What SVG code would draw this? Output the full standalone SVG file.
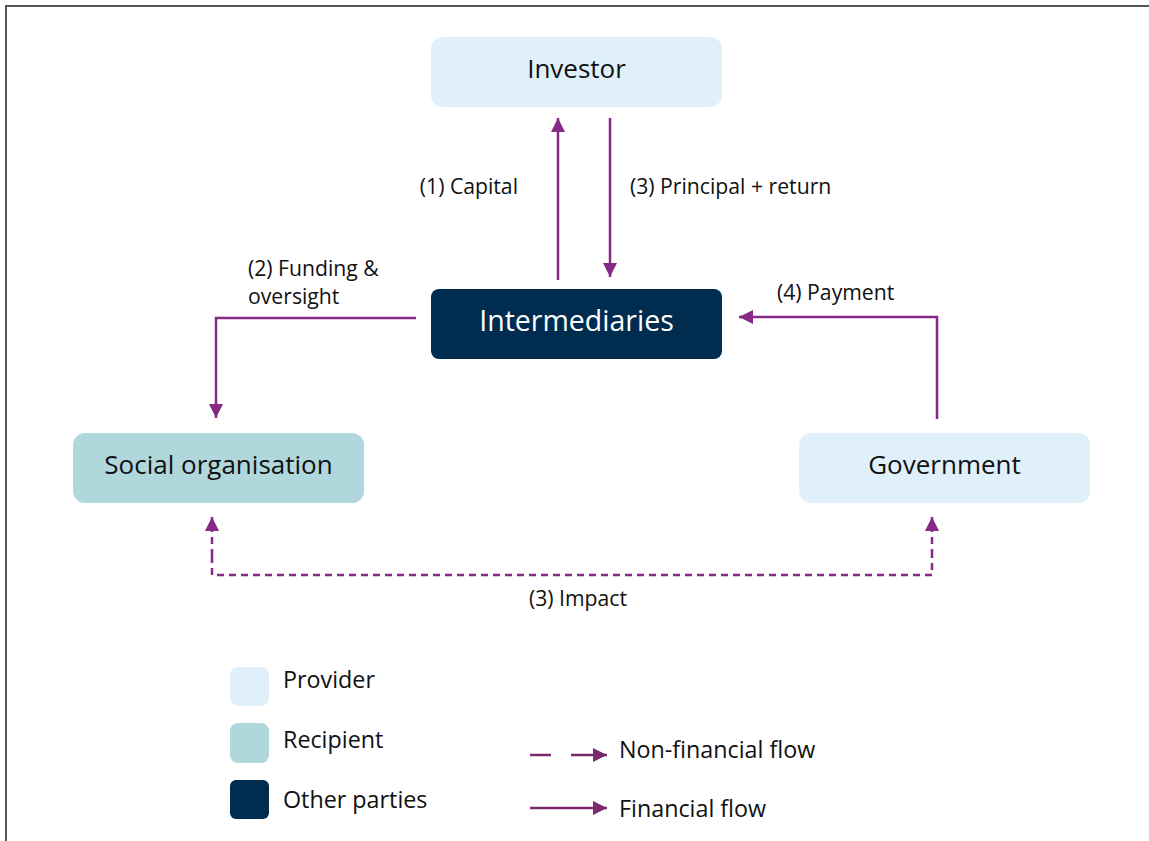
<svg xmlns="http://www.w3.org/2000/svg" width="1149" height="841" viewBox="0 0 1149 841">
<style>
text{font-family:"Open Sans","Liberation Sans",Arial,sans-serif;fill:#111}
.node{font-size:26px}
.lbl{font-size:21.2px}
.leg{font-size:23.3px}
.flow{fill:none;stroke:#852b85;stroke-width:2.5}
.lflow{fill:none;stroke:#7a2a6e;stroke-width:2.5}
</style>
<defs>
<marker id="ah" viewBox="0 0 10 10" refX="10" refY="5" markerWidth="5.6" markerHeight="5.6" markerUnits="strokeWidth" orient="auto"><path d="M0,0 L10,5 L0,10 z" fill="#852b85"/></marker>
<marker id="lah" viewBox="0 0 10 10" refX="10" refY="5" markerWidth="5.6" markerHeight="5.6" markerUnits="strokeWidth" orient="auto"><path d="M0,0 L10,5 L0,10 z" fill="#7a2a6e"/></marker>
</defs>
<rect width="1149" height="841" fill="#fff"/>
<path d="M6,841 V6 H1149" fill="none" stroke="#555" stroke-width="2"/>
<g id="investor"><rect x="431" y="37" width="291" height="70" rx="12" fill="#dff0fa"/><text class="node" x="576.5" y="78" text-anchor="middle">Investor</text></g>
<g id="intermediaries"><rect x="431" y="289" width="291" height="70" rx="8" fill="#002d4f"/><text class="node" x="576.5" y="331" text-anchor="middle" style="fill:#fff;font-size:28.5px">Intermediaries</text></g>
<g id="social"><rect x="73" y="433" width="291" height="70" rx="12" fill="#b0d7dc"/><text class="node" x="218.5" y="474" text-anchor="middle">Social organisation</text></g>
<g id="government"><rect x="799" y="433" width="291" height="70" rx="12" fill="#dff0fa"/><text class="node" x="944.5" y="474" text-anchor="middle">Government</text></g>
<g id="connectors">
<path class="flow" d="M558,280 V118" marker-end="url(#ah)"/>
<path class="flow" d="M610,118 V277" marker-end="url(#ah)"/>
<path class="flow" d="M416,318 H216 V418" marker-end="url(#ah)"/>
<path class="flow" d="M937,419 V317 H739" marker-end="url(#ah)"/>
<path class="flow" d="M212,556 V517" marker-end="url(#ah)" stroke-dasharray="7,5"/>
<path class="flow" d="M212,556 V575 H932 V556" stroke-dasharray="7,5"/>
<path class="flow" d="M932,556 V517" marker-end="url(#ah)" stroke-dasharray="7,5"/>
<text class="lbl" x="518" y="194" text-anchor="end">(1) Capital</text>
<text class="lbl" x="630" y="194">(3) Principal + return</text>
<text class="lbl" x="248" y="276">(2) Funding &amp;</text>
<text class="lbl" x="248" y="304">oversight</text>
<text class="lbl" x="777" y="300">(4) Payment</text>
<text class="lbl" x="578" y="606" text-anchor="middle">(3) Impact</text>
</g>
<g id="legend">
<rect x="230" y="667" width="39" height="39" rx="8" fill="#dff0fa"/>
<rect x="230" y="723" width="39" height="40" rx="8" fill="#b0d7dc"/>
<rect x="230" y="780" width="39" height="39" rx="6" fill="#002d4f"/>
<text class="leg" x="283" y="688">Provider</text>
<text class="leg" x="283" y="748">Recipient</text>
<text class="leg" x="283" y="808">Other parties</text>
<path class="lflow" d="M530,755 H551"/>
<path class="lflow" d="M571,755 H607" marker-end="url(#lah)"/>
<path class="lflow" d="M530,808 H607" marker-end="url(#lah)"/>
<text class="leg" x="619" y="758">Non-financial flow</text>
<text class="leg" x="619" y="817">Financial flow</text>
</g>
</svg>
